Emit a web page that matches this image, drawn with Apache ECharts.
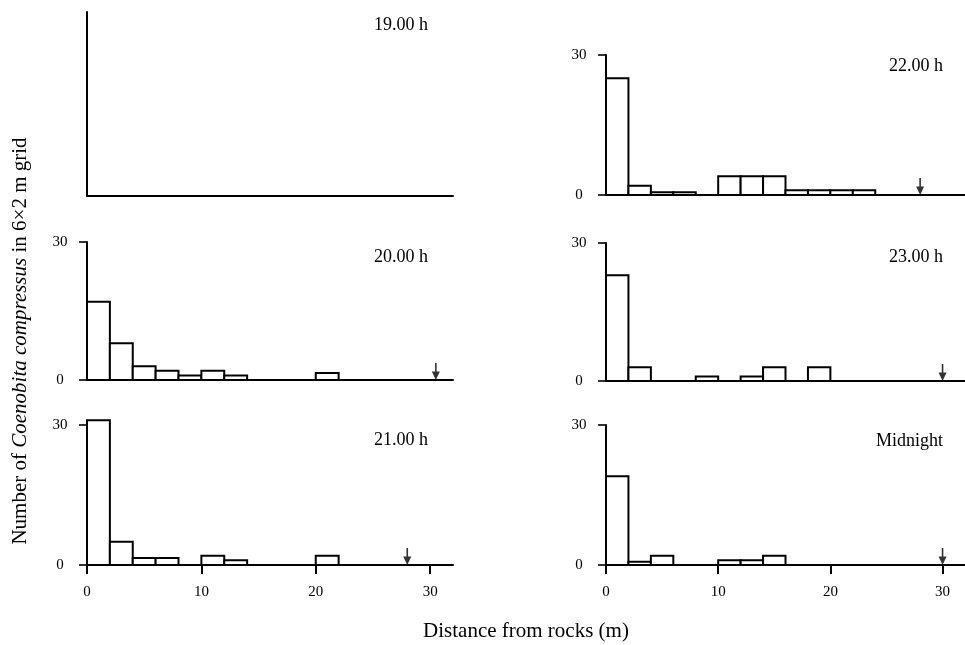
<!DOCTYPE html>
<html>
<head>
<meta charset="utf-8">
<title>Coenobita compressus distance histograms</title>
<script src="https://cdn.jsdelivr.net/npm/echarts@6/dist/echarts.min.js"></script>
<style>
    html, body { margin: 0; padding: 0; background: #fff; }
    #chart { width: 965px; height: 645px; }
</style>
</head>
<body>
<div id="chart"></div>
<script>
// bins are 2 m wide, starting at these distances (m)
var binWidth = 2;
var binStarts = [0, 2, 4, 6, 8, 10, 12, 14, 16, 18, 20, 22];

// number of crabs per bin
var counts1900 = [0, 0, 0, 0, 0, 0, 0, 0, 0, 0, 0, 0];
var counts2000 = [17, 8, 3, 2, 1, 2, 1, 0, 0, 0, 1.5, 0];
var counts2100 = [31, 5, 1.5, 1.5, 0, 2, 1, 0, 0, 0, 2, 0];
var counts2200 = [25, 2, 0.6, 0.6, 0, 4, 4, 4, 1, 1, 1, 1];
var counts2300 = [23, 3, 0, 0, 1, 0, 1, 3, 0, 3, 0, 0];
var countsMidnight = [19, 0.7, 2, 0, 0, 1, 1, 2, 0, 0, 0, 0];

// arrow positions (m), none for 19.00 h
var arrows = [null, 30.5, 28, 28, 30, 30];

var panelTitles = ['19.00 h', '20.00 h', '21.00 h', '22.00 h', '23.00 h', 'Midnight'];
var xTicks = [0, 10, 20, 30];

var serif = "'Liberation Serif', 'Times New Roman', serif";
var ink = '#000';

var panels = [counts1900, counts2000, counts2100, counts2200, counts2300, countsMidnight];

// layout of the six grids (left col, right col)
var grids = [
    {left: 87, top: 12, width: 366, height: 184},
    {left: 87, top: 242, width: 366, height: 138},
    {left: 87, top: 425, width: 366, height: 140},
    {left: 606, top: 55, width: 367, height: 140},
    {left: 606, top: 243, width: 367, height: 138},
    {left: 606, top: 425, width: 367, height: 140}
];
var titlePos = [
    {right: 537, top: 16},
    {right: 537, top: 248},
    {right: 537, top: 431},
    {right: 22, top: 57},
    {right: 22, top: 248},
    {right: 22, top: 432}
];
var isBottom = [false, false, true, false, false, true];

function renderBar(params, api) {
    var x0 = api.value(0);
    var v = api.value(1);
    var p0 = api.coord([x0, v]);
    var p1 = api.coord([x0 + binWidth, 0]);
    return {
        type: 'rect',
        shape: {x: p0[0], y: p0[1], width: p1[0] - p0[0], height: p1[1] - p0[1]},
        style: {fill: '#fff', stroke: ink, lineWidth: 2}
    };
}

var xAxes = [], yAxes = [], series = [], titles = [];
panels.forEach(function (counts, i) {
    var bottom = isBottom[i];
    xAxes.push({
        type: 'value', gridIndex: i, min: 0, max: 32, interval: 10,
        splitLine: {show: false},
        axisLine: {lineStyle: {color: ink, width: 2}},
        axisTick: {show: bottom, length: 9, lineStyle: {color: ink, width: 2},
            customValues: xTicks},
        axisLabel: {show: bottom, margin: 20, color: ink, fontFamily: serif, fontSize: 15,
            customValues: xTicks}
    });
    var noTicks = i === 0;
    yAxes.push({
        type: 'value', gridIndex: i, min: 0, max: noTicks ? 40 : 30, interval: noTicks ? 40 : 30,
        splitLine: {show: false},
        axisLine: {show: true, lineStyle: {color: ink, width: 2}},
        axisTick: {show: !noTicks, length: 8, lineStyle: {color: ink, width: 1.6}},
        axisLabel: {show: !noTicks, margin: 27, align: 'center', color: ink,
            fontFamily: serif, fontSize: 15}
    });
    var data = [];
    binStarts.forEach(function (s, k) {
        if (counts[k] > 0) data.push([s, counts[k]]);
    });
    series.push({
        type: 'custom', xAxisIndex: i, yAxisIndex: i,
        renderItem: renderBar, data: data, silent: true, clip: false
    });
    if (arrows[i] !== null) {
        series.push({
            type: 'scatter', xAxisIndex: i, yAxisIndex: i, silent: true, z: 5,
            symbol: 'path://M4,0 L6,0 L6,9 L10,9 L5,18 L0,9 L4,9 Z',
            symbolSize: [8, 17], symbolOffset: [0, '-50%'],
            itemStyle: {color: ink},
            data: [[arrows[i], 0]]
        });
    }
    titles.push({
        text: panelTitles[i], right: titlePos[i].right, top: titlePos[i].top, padding: 0,
        textStyle: {fontFamily: serif, fontSize: 18, fontWeight: 'normal', color: ink}
    });
});

var chart = echarts.init(document.getElementById('chart'));
chart.setOption({
    backgroundColor: '#fff',
    animation: false,
    title: titles,
    grid: grids,
    xAxis: xAxes,
    yAxis: yAxes,
    series: series,
    graphic: [
        {
            type: 'text', x: 20, y: 341, rotation: Math.PI / 2,
            style: {
                text: '{n|Number of }{i|Coenobita compressus}{n| in 6×2 m grid}',
                align: 'center', verticalAlign: 'middle',
                rich: {
                    n: {fontFamily: serif, fontSize: 21, fill: ink, color: ink},
                    i: {fontFamily: serif, fontSize: 21, fontStyle: 'italic', fill: ink, color: ink}
                }
            }
        },
        {
            type: 'text', x: 526, y: 631,
            style: {
                text: 'Distance from rocks (m)', fontFamily: serif, fontSize: 21,
                fill: ink, align: 'center', verticalAlign: 'middle'
            }
        }
    ]
});
</script>
</body>
</html>
